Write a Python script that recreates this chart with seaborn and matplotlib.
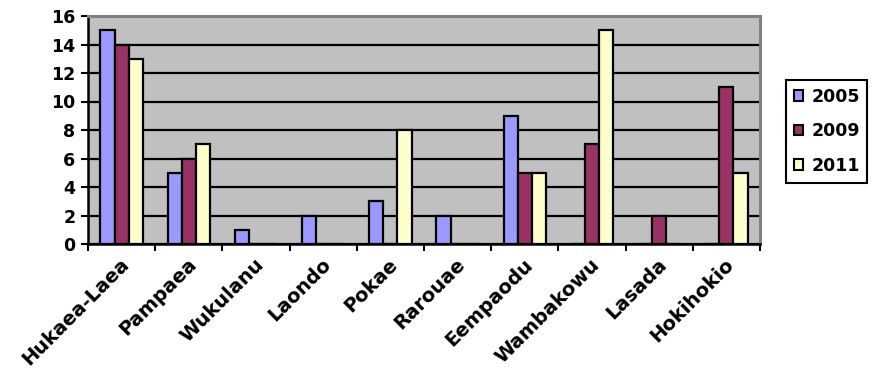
import matplotlib
matplotlib.use("Agg")
import matplotlib.pyplot as plt
import matplotlib.transforms as mtransforms
import seaborn as sns
import pandas as pd
import numpy as np

categories = ["Hukaea-Laea", "Pampaea", "Wukulanu", "Laondo", "Pokae",
              "Rarouae", "Eempaodu", "Wambakowu", "Lasada", "Hokihokio"]
series_names = ["2005", "2009", "2011"]
values_2005 = [15, 5, 1, 2, 3, 2, 9, 0, 0, 0]
values_2009 = [14, 6, 0, 0, 0, 0, 5, 7, 2, 11]
values_2011 = [13, 7, 0, 0, 8, 0, 5, 15, 0, 5]
y_ticks = [0, 2, 4, 6, 8, 10, 12, 14, 16]
colors = ["#9999FF", "#993366", "#FFFFCC"]

rows = []
for name, vals in zip(series_names, [values_2005, values_2009, values_2011]):
    for c, v in zip(categories, vals):
        rows.append({"category": c, "year": name, "value": v})
df = pd.DataFrame(rows)

sns.set_theme(style="white")
plt.rcParams["font.family"] = ["DejaVu Sans"]
plt.rcParams["font.weight"] = "bold"
plt.rcParams["text.color"] = "black"
plt.rcParams["xtick.color"] = "black"
plt.rcParams["ytick.color"] = "black"

FS = 12.5
FSX = 14
W, H = 874, 374
fig = plt.figure(figsize=(W / 100, H / 100), dpi=100)
ax = fig.add_axes([88 / W, 1 - 244 / H, (760 - 88) / W, (244 - 16) / H])
ax.set_facecolor("#C0C0C0")

sns.barplot(data=df, x="category", y="value", hue="year",
            order=categories, hue_order=series_names, palette=colors,
            width=0.63, edgecolor="black", linewidth=1.6,
            saturation=1, errorbar=None, ax=ax, zorder=3)

ax.set_ylim(0, 16)
ax.set_xlim(-0.5, len(categories) - 0.5)
ax.set_yticks(y_ticks)
ax.set_yticklabels([str(t) for t in y_ticks], fontsize=FS, fontweight="bold",
                   color="black")
ax.yaxis.grid(True, color="black", linewidth=1.6, zorder=1)
ax.set_axisbelow(True)
ax.tick_params(axis="y", direction="out", length=5, width=1.5, color="black",
               labelcolor="black", left=True, pad=4)

ax.set_xticks(np.arange(len(categories)))
ax.set_xticklabels(categories, rotation=45, ha="right",
                   rotation_mode="anchor", fontsize=FSX, fontweight="bold",
                   color="black")
ax.tick_params(axis="x", which="major", length=0, pad=7, labelcolor="black")
offset = mtransforms.ScaledTranslation(-2 / 100, -1 / 100, fig.dpi_scale_trans)
for lbl in ax.get_xticklabels():
    lbl.set_transform(lbl.get_transform() + offset)
ax.set_xticks(np.arange(-0.5, len(categories) + 0.5, 1), minor=True)
ax.tick_params(axis="x", which="minor", direction="out", length=5,
               width=1.5, color="black", bottom=True)
ax.set_xlabel("")
ax.set_ylabel("")

for s in ["left", "bottom"]:
    ax.spines[s].set_color("black")
    ax.spines[s].set_linewidth(1.8)
for s in ["top", "right"]:
    ax.spines[s].set_visible(True)
    ax.spines[s].set_color("#808080")
    ax.spines[s].set_linewidth(2.2)

ax.get_legend().remove()
handles = [plt.Rectangle((0, 0), 1, 1, facecolor=c, edgecolor="black",
                         linewidth=1.5) for c in colors]
leg = fig.legend(handles, series_names, loc="upper left",
                 bbox_to_anchor=(786 / W, 1 - 80 / H),
                 bbox_transform=fig.transFigure,
                 prop={"family": "DejaVu Sans", "weight": "bold", "size": FS},
                 frameon=True, fancybox=False, framealpha=1,
                 edgecolor="black", handlelength=0.55, handleheight=0.55,
                 handletextpad=0.45, labelspacing=0.95, borderpad=0.45,
                 borderaxespad=0, labelcolor="black")
leg.get_frame().set_linewidth(1.5)

fig.savefig("out.png", dpi=100)
